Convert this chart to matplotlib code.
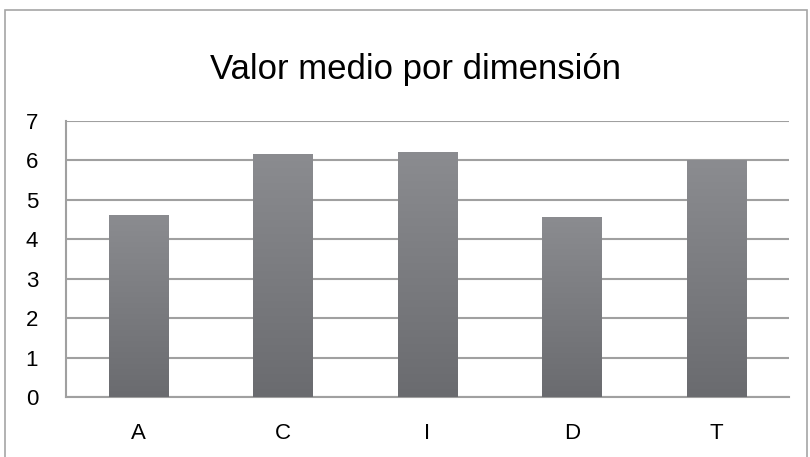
import numpy as np
import matplotlib.pyplot as plt
from matplotlib.patches import Rectangle

categorias = ["A", "C", "I", "D", "T"]
valores = [4.62, 6.17, 6.22, 4.57, 6.0]
titulo = "Valor medio por dimensión"

plt.rcParams['font.family'] = ['Liberation Sans', 'DejaVu Sans']

fig = plt.figure(figsize=(8.1, 4.57), dpi=100)
ax = fig.add_axes([66 / 810, 1 - 397 / 457, 723 / 810, 276 / 457])

# marco exterior del grafico
fig.patches.append(Rectangle((5 / 810, -0.01), 802 / 810, 1 - 10 / 457 + 0.01,
                             transform=fig.transFigure, fill=False,
                             edgecolor='#a6a6a6', linewidth=1.2))

x = np.arange(len(categorias))
barras = ax.bar(x, valores, width=0.41, color='#7d7e82', zorder=3)

# degradado vertical en cada barra
cmap = plt.matplotlib.colors.LinearSegmentedColormap.from_list('g', ['#6a6b6f', '#8b8c90'])
grad = np.linspace(0, 1, 256).reshape(-1, 1)
for b in barras:
    x0, w, h = b.get_x(), b.get_width(), b.get_height()
    im = ax.imshow(grad, extent=(x0, x0 + w, 0, h), origin='lower',
                   cmap=cmap, aspect='auto', zorder=4)
    im.set_clip_path(b)

ax.set_xlim(-0.5, len(categorias) - 0.5)
ax.set_ylim(0, 7)
ax.set_yticks(range(8))
ax.set_xticks(x)
ax.set_xticklabels(categorias)
ax.yaxis.grid(True, color='#a0a0a0', linewidth=1.5, zorder=0)
ax.set_axisbelow(True)
ax.tick_params(axis='both', length=0, labelsize=16, colors='black')
ax.tick_params(axis='y', pad=20)
ax.tick_params(axis='x', pad=19)
for lab in ax.get_xticklabels() + ax.get_yticklabels():
    lab.set_family(['Liberation Sans Narrow', 'Liberation Sans'])
for s in ['top', 'right']:
    ax.spines[s].set_visible(False)
for s in ['left', 'bottom']:
    ax.spines[s].set_color('#a0a0a0')
    ax.spines[s].set_linewidth(1.5)

fig.text(415 / 810, 1 - 69 / 457, titulo, ha='center', va='center', fontsize=25)

fig.savefig('out.png', dpi=100)
